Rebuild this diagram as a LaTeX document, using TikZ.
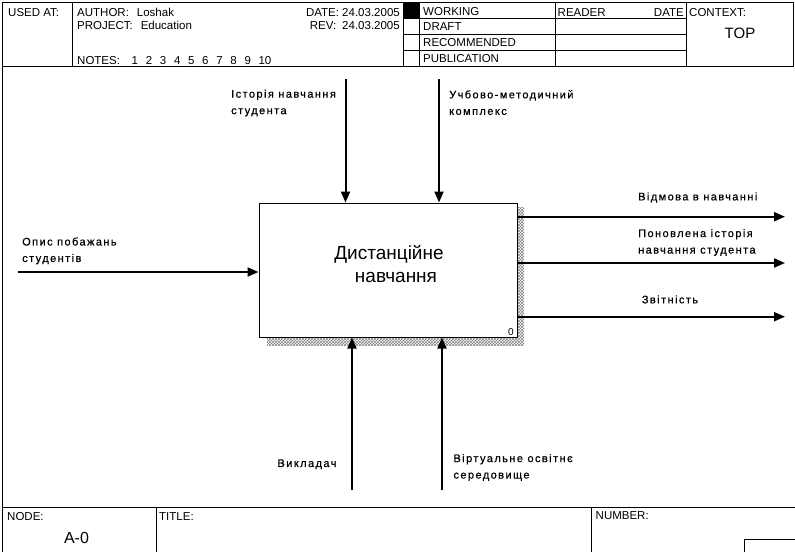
\documentclass[tikz,border=0pt]{standalone}
\usepackage{fontspec}
\setmainfont{Liberation Sans}
\newfontfamily\lblfont[LetterSpace=13,FakeBold=0.6]{Liberation Sans}
\usepackage{tikz}
\usetikzlibrary{arrows.meta,patterns,calc}

\tikzset{
  flow/.style={line width=2pt,-{Triangle[length=11pt,width=9pt]}},
  hdr/.style={anchor=base west,inner sep=0pt,font=\fontsize{11.5}{13}\selectfont},
  lbl/.style={anchor=north west,inner sep=0pt,align=left,font=\lblfont\fontsize{11}{16.5}\selectfont},
}

\begin{document}
\begin{tikzpicture}[x=1pt,y=-1pt]
\useasboundingbox (0,0) rectangle (795,552);

% header frame
\draw[line width=1pt] (2,2) rectangle (793,66);
\draw[line width=1pt] (72,2)--(72,66);
\draw[line width=1pt] (403,2)--(403,66);
\draw[line width=1pt] (419,2)--(419,66);
\draw[line width=1pt] (555,2)--(555,66);
\draw[line width=1pt] (686,2)--(686,66);
\foreach \y in {18.5,34.5,50.5}
{
\draw[line width=1pt] (403,\y)--(686,\y);
}
\fill (403,2) rectangle (419,18.5);

\node[hdr] (usedat) at (8,16.5){USED AT:};
\node[hdr] (author) at (77,16.5){AUTHOR:\hspace{8pt}Loshak};
\node[hdr] (project) at (77,29.3){PROJECT:\hspace{8pt}Education};
\node[hdr] (notes) at (77,64){NOTES:};
\foreach \n in {1,...,10}
{
\node[hdr] (note\n) at (131.5+14.1*\n-14.1,64){\n};
}
\node[hdr,anchor=base east] (date) at (400,16.5){DATE: 24.03.2005};
\node[hdr,anchor=base east] (rev) at (400,29.3){REV:\hspace{6pt}24.03.2005};

\node[hdr] (working) at (423,15.7){WORKING};
\node[hdr] (draft) at (423,30.7){DRAFT};
\node[hdr] (recommended) at (423,46.7){RECOMMENDED};
\node[hdr] (publication) at (423,62.3){PUBLICATION};
\node[hdr] (reader) at (557.5,16){READER};
\node[hdr,anchor=base east] (rdate) at (684,16){DATE};
\node[hdr] (context) at (689,16){CONTEXT:};
\node[hdr,anchor=base,font=\fontsize{15}{17}\selectfont] (top) at (740,38.3){TOP};

% left border and footer
\draw[line width=1pt] (2,66)--(2,552);
\draw[line width=1pt] (2,507)--(795,507);
\draw[line width=1pt] (156,507)--(156,552);
\draw[line width=1pt] (591,507)--(591,552);
\draw[line width=1pt] (744,552)|-(795,539);
\node[hdr] (nodelbl) at (7,520){NODE:};
\node[hdr,anchor=base,font=\fontsize{16}{18}\selectfont] (nodenum) at (76.5,543.3){A-0};
\node[hdr] (title) at (159,520){TITLE:};
\node[hdr] (number) at (595.5,519.5){NUMBER:};

% shadow
\fill[pattern=crosshatch,pattern color=gray] (517,207) rectangle (524,345);
\fill[pattern=crosshatch,pattern color=gray] (267,337) rectangle (517,345);

% activity
\node[draw,fill=white,line width=1pt,minimum width=258pt,minimum height=134pt,inner sep=0pt,
  align=center,font=\fontsize{19}{23.4}\selectfont] (box) at (388,270){};
\node[font=\fontsize{19}{23.4}\selectfont,align=center,inner sep=0pt] (boxtext) at (389,264)
  {Дистанційне\\\hspace*{14pt}навчання};
\node[hdr,font=\fontsize{10}{12}\selectfont] (boxnum) at (508,335){0};

% inputs, controls, mechanisms
\coordinate (in1) at (18,272);
\coordinate (ctl1) at (345.5,79);
\coordinate (ctl2) at (439,79);
\coordinate (mech1) at (352,490);
\coordinate (mech2) at (442,490);
\draw[flow] (in1)--(in1 -| box.west);
\draw[flow] (ctl1)--(ctl1 |- box.north);
\draw[flow] (ctl2)--(ctl2 |- box.north);
\draw[flow] (mech1)--(mech1 |- box.south);
\draw[flow] (mech2)--(mech2 |- box.south);

% outputs
\coordinate (out1) at (785,216.7);
\coordinate (out2) at (785,263);
\coordinate (out3) at (785,316.7);
\foreach \o in {out1,out2,out3}
{
\draw[flow] (\o -| box.east)--(\o);
}

% arrow labels
\node[lbl] (lblin) at (22,237.2){Опис побажань\\студентів};
\node[lbl] (lblctl1) at (231,89.5){Історія навчання\\студента};
\node[lbl] (lblctl2) at (449,90){Учбово-методичний\\комплекс};
\node[lbl] (lblout1) at (638,192.2){Відмова в навчанні};
\node[lbl] (lblout2) at (638,228.9){Поновлена історія\\навчання студента};
\node[lbl] (lblout3) at (641.7,295.2){Звітність};
\node[lbl] (lblmech1) at (277.3,459.2){Викладач};
\node[lbl] (lblmech2) at (453.3,453.9){Віртуальне освітнє\\середовище};

\end{tikzpicture}
\end{document}
